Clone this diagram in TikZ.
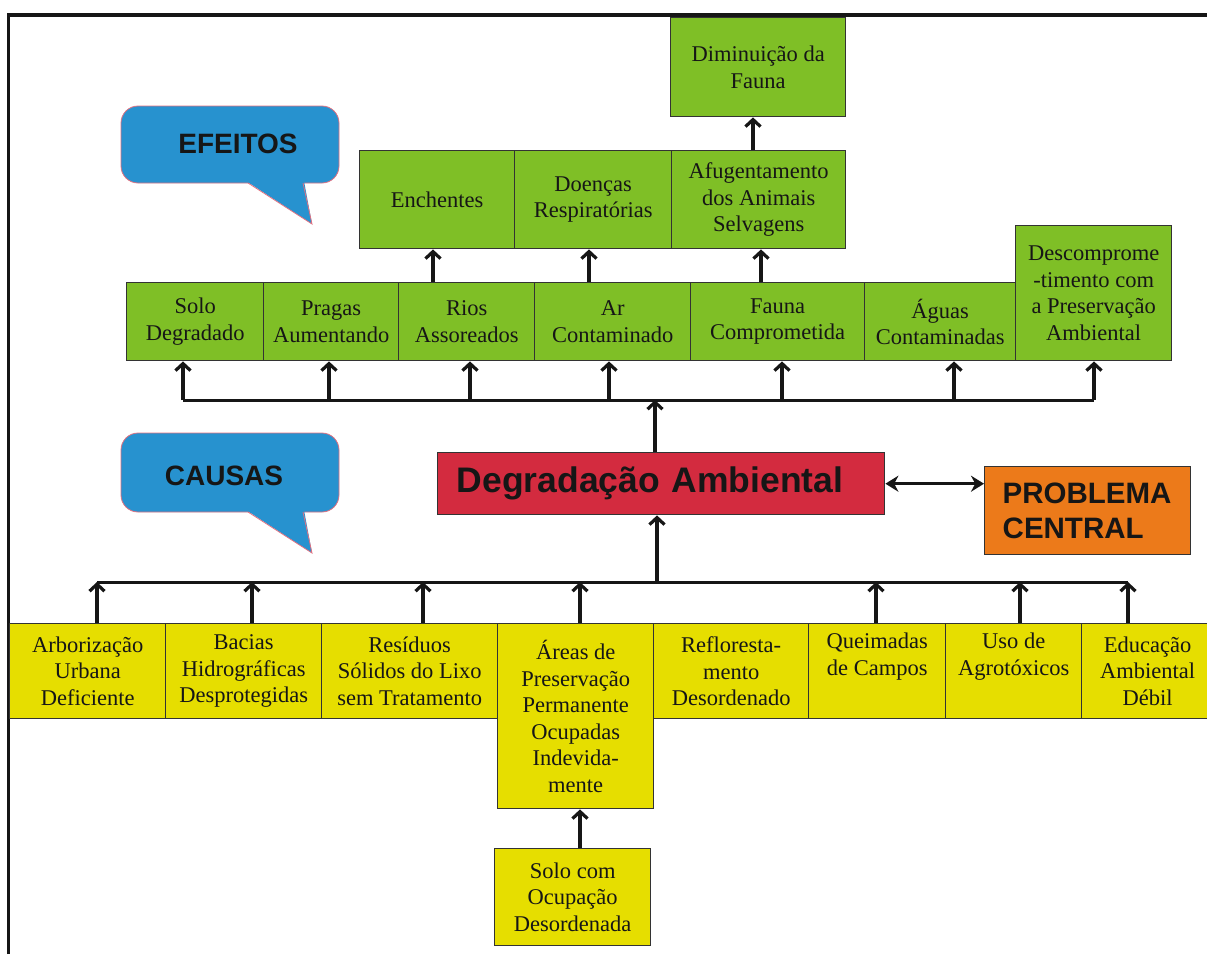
\documentclass[tikz,border=0pt]{standalone}
\usepackage{fontspec}
\setmainfont{Liberation Serif}
\newfontfamily\hv{Liberation Sans}
\usetikzlibrary{arrows.meta}

\definecolor{effgreen}{HTML}{7FBF26}
\definecolor{causeyel}{HTML}{E6DE00}
\definecolor{mainred}{HTML}{D32B3F}
\definecolor{centralorange}{HTML}{EC7A1A}
\definecolor{bubbleblue}{HTML}{2792CF}
\definecolor{bubbleedge}{HTML}{E07080}
\definecolor{boxline}{HTML}{333333}
\definecolor{ink}{HTML}{161616}

\tikzset{
  box/.style={draw=boxline, line width=1.4pt, inner sep=0pt, anchor=north west,
    align=center, text=ink, font=\fontsize{22.5}{26.5}\selectfont},
  eff/.style={box, fill=effgreen},
  cau/.style={box, fill=causeyel},
  arr/.style={draw=ink, line width=3.2pt, -{Straight Barb[length=7pt,width=15pt]}},
  busline/.style={draw=ink, line width=3pt},
  dblarr/.style={draw=ink, line width=2.8pt, {Stealth[length=13pt,width=16pt]}-{Stealth[length=13pt,width=16pt]}},
  bubble/.style={fill=bubbleblue, draw=bubbleedge, line width=0.8pt},
  bubbletext/.style={text=ink, font=\hv\bfseries\fontsize{28}{32}\selectfont},
}

\begin{document}
\begin{tikzpicture}[x=1pt,y=-1pt]
\useasboundingbox (0,0) rectangle (1207,954);
\fill[white] (0,0) rectangle (1207,954);

% outer frame (left and top edges)
\draw[line width=3.8pt, ink] (8.5,954) -- (8.5,15) -- (1207,15);

% ---------- speech bubbles ----------
\node[bubble, rounded corners=17pt, minimum width=218pt, minimum height=77pt, inner sep=0pt] (efbody) at (230,144.5) {};
\fill[bubbleblue] (246,181) -- (312,224) -- (304,181) -- cycle;
\draw[bubbleedge, line width=0.8pt] (248,183) -- (312,224) -- (303,183);
\node[bubbletext] (eflabel) at (238,144) {EFEITOS};

\node[bubble, rounded corners=17pt, minimum width=218pt, minimum height=79pt, inner sep=0pt] (cabody) at (230,472.5) {};
\fill[bubbleblue] (246,510) -- (312,553) -- (304,510) -- cycle;
\draw[bubbleedge, line width=0.8pt] (248,512) -- (312,553) -- (303,512);
\node[bubbletext] (calabel) at (224,476) {CAUSAS};

% ---------- effects ----------
\node[eff, minimum width=175pt, minimum height=99pt] (dim) at (670,17) {Diminuição da\\Fauna};

\node[eff, minimum width=155pt, minimum height=98pt] (enc) at (359,150) {Enchentes};
\node[eff, minimum width=157pt, minimum height=98pt] (doe) at (514,150) {Doenças\\Respiratórias};
\node[eff, minimum width=174pt, minimum height=98pt] (afu) at (671,150) {Afugentamento\\dos Animais\\Selvagens};

\node[eff, minimum width=137pt, minimum height=78pt] (solo) at (126,282) {Solo\\Degradado};
\node[eff, minimum width=135pt, minimum height=78pt] (pra) at (263,282) {Pragas\\Aumentando};
\node[eff, minimum width=136pt, minimum height=78pt] (rio) at (398,282) {Rios\\Assoreados};
\node[eff, minimum width=156pt, minimum height=78pt] (ar) at (534,282) {Ar\\Contaminado};
\node[eff, minimum width=174pt, minimum height=78pt] (fau) at (690,282) {Fauna\\Comprometida};
\node[eff, minimum width=151pt, minimum height=78pt] (agu) at (864,282) {Águas\\Contaminadas};
\node[eff, minimum width=156pt, minimum height=135pt] (des) at (1015,225) {Descomprome\\-timento com\\a Preservação\\Ambiental};

% ---------- central problem ----------
\node[box, fill=mainred, minimum width=447pt, minimum height=62pt, text width=409pt, align=left,
  font=\hv\bfseries\fontsize{35.5}{40}\selectfont] (deg) at (437,452) {Degradação Ambiental};
\node[box, fill=centralorange, minimum width=206pt, minimum height=88pt, text width=170pt, align=left,
  font=\hv\bfseries\fontsize{29.5}{35}\selectfont] (prob) at (984,466) {PROBLEMA\\CENTRAL};

% ---------- causes ----------
\node[cau, minimum width=156pt, minimum height=95pt] (arb) at (9,623) {Arborização\\Urbana\\Deficiente};
\node[cau, minimum width=156pt, minimum height=95pt] (bac) at (165,623) {Bacias\\Hidrográficas\\Desprotegidas};
\node[cau, minimum width=176pt, minimum height=95pt] (res) at (321,623) {Resíduos\\Sólidos do Lixo\\sem Tratamento};
\node[cau, minimum width=156pt, minimum height=185pt] (are) at (497,623) {Áreas de\\Preservação\\Permanente\\Ocupadas\\Indevida-\\mente};
\node[cau, minimum width=155pt, minimum height=95pt] (ref) at (653,623) {Refloresta-\\mento\\Desordenado};
\node[cau, minimum width=137pt, minimum height=95pt] (que) at (808,623) {Queimadas\\de Campos\\\strut};
\node[cau, minimum width=136pt, minimum height=95pt] (uso) at (945,623) {Uso de\\Agrotóxicos\\\strut};
\node[cau, minimum width=132pt, minimum height=95pt] (edu) at (1081,623) {Educação\\Ambiental\\Débil};
\node[cau, minimum width=156pt, minimum height=97pt] (soc) at (494,848) {Solo com\\Ocupação\\Desordenada};

% ---------- effects bus ----------
\coordinate (eb1) at (183,400);
\coordinate (eb2) at (329,400);
\coordinate (eb3) at (470,400);
\coordinate (eb4) at (609,400);
\coordinate (eb5) at (782,400);
\coordinate (eb6) at (954,400);
\coordinate (eb7) at (1094,400);
\coordinate (ebc) at (655,400);
\draw[busline] (eb1) -- (eb7);
\draw[arr] (eb1) -- (eb1 |- solo.south);
\draw[arr] (eb2) -- (eb2 |- pra.south);
\draw[arr] (eb3) -- (eb3 |- rio.south);
\draw[arr] (eb4) -- (eb4 |- ar.south);
\draw[arr] (eb5) -- (eb5 |- fau.south);
\draw[arr] (eb6) -- (eb6 |- agu.south);
\draw[arr] (eb7) -- (eb7 |- des.south);
\draw[arr] (ebc |- deg.north) -- (ebc);

% effects feeding the upper row
\coordinate (ux1) at (433,0);
\coordinate (ux2) at (589,0);
\coordinate (ux3) at (761,0);
\coordinate (ux4) at (753,0);
\draw[arr] (ux1 |- rio.north) -- (ux1 |- enc.south);
\draw[arr] (ux2 |- ar.north) -- (ux2 |- doe.south);
\draw[arr] (ux3 |- fau.north) -- (ux3 |- afu.south);
\draw[arr] (ux4 |- afu.north) -- (ux4 |- dim.south);

% ---------- causes bus ----------
\coordinate (cb1) at (97,582);
\coordinate (cb2) at (252,582);
\coordinate (cb3) at (423,582);
\coordinate (cb4) at (580,582);
\coordinate (cb5) at (876,582);
\coordinate (cb6) at (1020,582);
\coordinate (cb7) at (1128,582);
\coordinate (cbc) at (657,582);
\draw[busline] (cb1) -- (cb7);
\draw[arr] (cb1 |- arb.north) -- (cb1);
\draw[arr] (cb2 |- bac.north) -- (cb2);
\draw[arr] (cb3 |- res.north) -- (cb3);
\draw[arr] (cb4 |- are.north) -- (cb4);
\draw[arr] (cb5 |- que.north) -- (cb5);
\draw[arr] (cb6 |- uso.north) -- (cb6);
\draw[arr] (cb7 |- edu.north) -- (cb7);
\draw[arr] (cbc) -- (cbc |- deg.south);

\coordinate (sx) at (580,0);
\draw[arr] (sx |- soc.north) -- (sx |- are.south);

% link to the central-problem label
\draw[dblarr] (deg.east) -- (deg.east -| prob.west);
\end{tikzpicture}
\end{document}
